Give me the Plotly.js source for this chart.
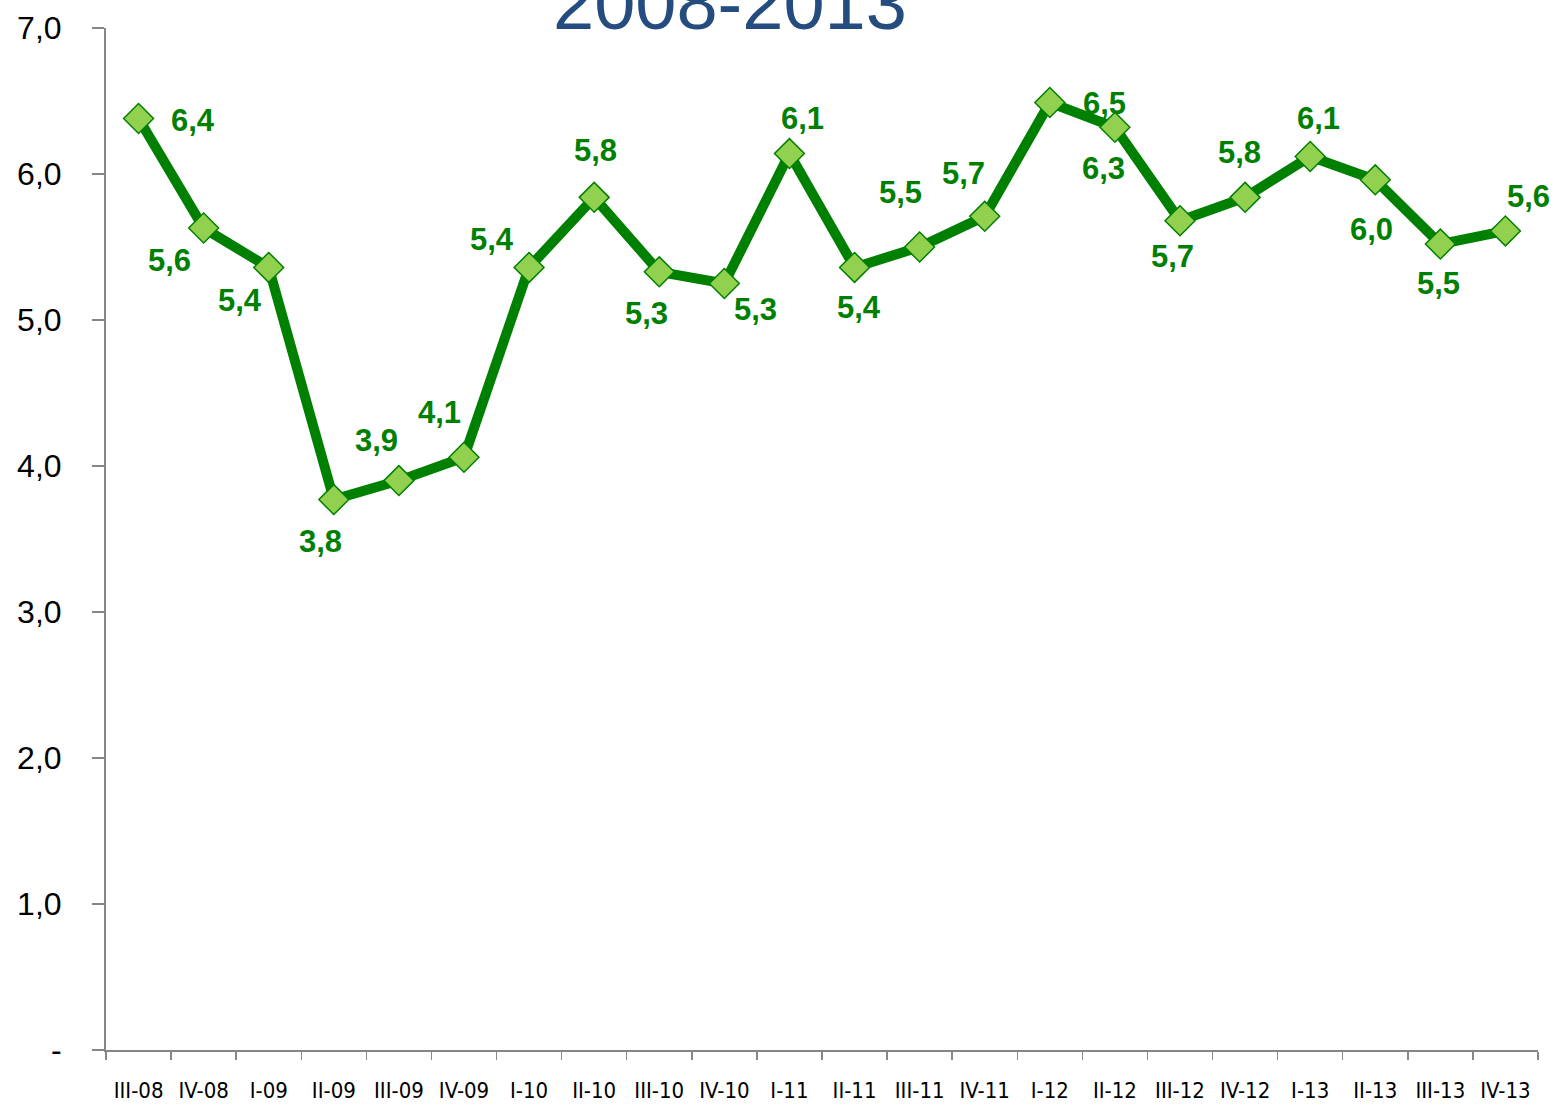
<!DOCTYPE html>
<html>
<head>
<meta charset="utf-8">
<script src="https://cdn.plot.ly/plotly-3.0.1.min.js"></script>
<style>html,body{margin:0;padding:0;background:#fff}#chart{width:1556px;height:1105px}</style>
</head>
<body>
<div id="chart"></div>
<script>
const quarters = ["III-08","IV-08","I-09","II-09","III-09","IV-09","I-10","II-10","III-10","IV-10","I-11","II-11","III-11","IV-11","I-12","II-12","III-12","IV-12","I-13","II-13","III-13","IV-13"];
const values = [6.38,5.63,5.36,3.77,3.90,4.06,5.36,5.84,5.33,5.25,6.14,5.36,5.50,5.71,6.49,6.32,5.68,5.84,6.12,5.96,5.52,5.61];
const yTickVals = [0,1,2,3,4,5,6,7];
const yTickText = ["-","1,0","2,0","3,0","4,0","5,0","6,0","7,0"];
const titleText = "2008-2013";

// label placement offsets in pixels (dx, dy with dy positive = down)
const labelOffsets = [[54,2],[-34,32],[-29,33],[-13,42],[-22,-40],[-25,-45],[-37,-28],[1,-47],[-13,42],[31,26],[13,-35],[4,40],[-19,-55],[-21,-43],[55,1],[-11,41],[-8,36],[-6,-45],[8,-38],[-4,50],[-2,39],[23,-34]];

const fmt = v => v.toFixed(1).replace(".", ",");

const trace = {
  type: "scatter",
  mode: "lines+markers",
  x: quarters,
  y: values,
  line: {color: "#008000", width: 10},
  marker: {symbol: "diamond", size: 23, color: "#92D050", line: {color: "#008000", width: 1.5}},
  hoverinfo: "skip"
};

const annotations = values.map((v, i) => ({
  x: quarters[i], y: v, xref: "x", yref: "y",
  text: fmt(v), showarrow: false,
  xanchor: "center", yanchor: "middle",
  xshift: labelOffsets[i][0], yshift: -labelOffsets[i][1],
  font: {family: "Liberation Sans, Arial, sans-serif", size: 31, color: "#008000", weight: "bold"}
}));

annotations.push({
  xref: "paper", yref: "paper", x: (730-106)/(1538-106), y: 1,
  yshift: -19, xanchor: "center", yanchor: "bottom",
  text: titleText, showarrow: false,
  font: {family: "Liberation Sans, Arial, sans-serif", size: 74, color: "#244C7E"}
});

const layout = {
  width: 1556, height: 1105,
  margin: {l: 106, r: 18, t: 28, b: 55},
  paper_bgcolor: "#ffffff", plot_bgcolor: "#ffffff",
  showlegend: false,
  xaxis: {
    type: "category", range: [-0.5, 21.5],
    showgrid: false, zeroline: false,
    showline: true, linecolor: "#868686", linewidth: 2,
    ticks: "outside", ticklen: 8, tickwidth: 1.5, tickcolor: "#868686",
    tickson: "boundaries", tickangle: 0,
    tickfont: {family: "DejaVu Sans Condensed, Liberation Sans, Arial, sans-serif", size: 22, color: "#000"},
    ticklabelstandoff: 20,
    fixedrange: true
  },
  yaxis: {
    range: [0, 7], tickvals: yTickVals, ticktext: yTickText,
    showgrid: false, zeroline: false,
    showline: true, linecolor: "#868686", linewidth: 2,
    ticks: "outside", ticklen: 12, tickwidth: 1.5, tickcolor: "#868686",
    tickfont: {family: "Liberation Sans, Arial, sans-serif", size: 32, color: "#000"},
    ticklabelstandoff: 24,
    fixedrange: true
  },
  annotations: annotations
};

Plotly.newPlot("chart", [trace], layout, {displayModeBar: false, staticPlot: true});
</script>
</body>
</html>
